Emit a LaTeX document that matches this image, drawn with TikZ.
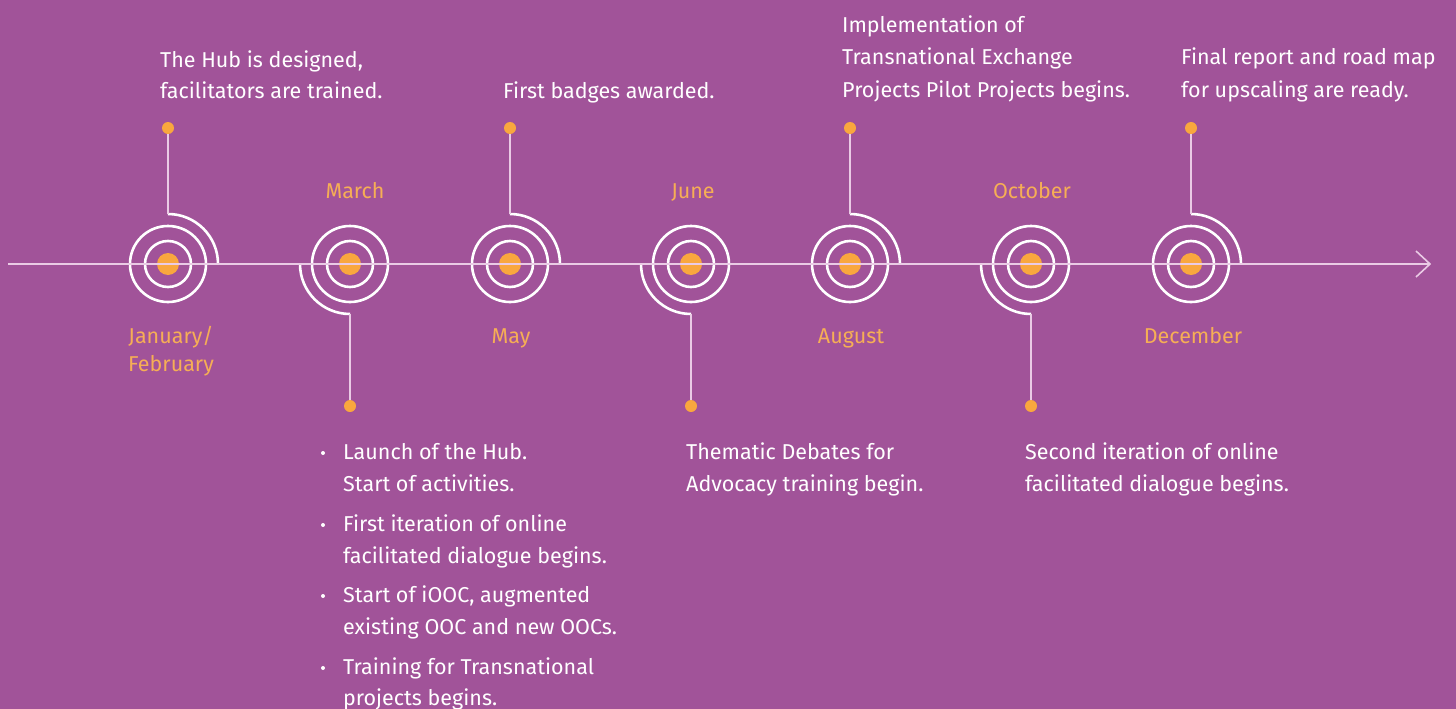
\documentclass[tikz,border=0pt]{standalone}
\usepackage{fontspec}
\setmainfont{Fira Sans}
\definecolor{bg}{HTML}{A15399}
\definecolor{dotor}{HTML}{F9A73E}
\definecolor{monor}{HTML}{F6AE55}
\definecolor{stem}{HTML}{EACBE5}
\begin{document}
\begin{tikzpicture}[x=1pt,y=-1pt,
  ring/.style={draw=white, line width=2.6pt},
  stemline/.style={draw=stem, line width=1.6pt},
  pin/.style={circle, fill=dotor, minimum size=12pt, inner sep=0pt},
  core/.style={circle, fill=dotor, minimum size=22pt, inner sep=0pt},
  bul/.style={circle, fill=white, minimum size=4pt, inner sep=0pt},
  txt/.style={text=white, font=\fontsize{21.5}{24}\selectfont, anchor=base west, inner sep=0pt},
  month/.style={text=monor, font=\fontsize{21.5}{24}\selectfont, anchor=base, inner sep=0pt},
]
\fill[bg] (0,0) rectangle (1456,709);
\useasboundingbox (0,0) rectangle (1456,709);

% axis
\coordinate (axs) at (8,264);
\coordinate (axe) at (1430,264);
\coordinate (axu) at (1416,251);
\coordinate (axd) at (1416,277);

% targets
\foreach \i/\x/\t in {1/168/up,2/350/down,3/510/up,4/691/down,5/850/up,6/1031/down,7/1191/up}{
  \node[core] (c\i) at (\x,264) {};
  \draw[ring] (c\i.center) circle (23pt);
  \draw[ring] (c\i.center) circle (38pt);
}
% arcs and stems (up)
\foreach \i/\x in {1/168,3/510,5/850,7/1191}{
  \coordinate (a\i) at (\x,214);
  \node[pin] (p\i) at (\x,128) {};
  \draw[ring] (a\i) arc[start angle=90, end angle=0, radius=50pt];
  \draw[stemline] (p\i) -- (a\i);
}
% arcs and stems (down)
\foreach \i/\x in {2/350,4/691,6/1031}{
  \coordinate (a\i) at (\x,314);
  \coordinate (l\i) at (\x-50,264);
  \node[pin] (p\i) at (\x,406) {};
  \draw[ring] (l\i) arc[start angle=180, end angle=270, radius=50pt];
  \draw[stemline] (a\i) -- (p\i);
}
\draw[stemline] (axs) -- (axe);
\draw[stemline, line join=miter] (axu) -- (axe) -- (axd);

% months
\node[month] (mmar) at (355,198) {March};
\node[month] (mjun) at (693,198) {June};
\node[month] (moct) at (1032,198) {October};
\node[month] (mjan) at (171,343) {January/};
\node[month] (mfeb) at (171,371) {February};
\node[month] (mmay) at (511,343) {May};
\node[month] (maug) at (851,343) {August};
\node[month] (mdec) at (1193,343) {December};

% texts above
\node[txt] (h1) at (160,67) {The Hub is designed,};
\node[txt] (h2) at (160,99) {facilitators are trained.};
\node[txt] (b1) at (503,99) {First badges awarded.};
\node[txt] (i1) at (842,33) {Implementation of};
\node[txt] (i2) at (842,65) {Transnational Exchange};
\node[txt] (i3) at (842,97) {Projects Pilot Projects begins.};
\node[txt] (f1) at (1181,65) {Final report and road map};
\node[txt] (f2) at (1181,97) {for upscaling are ready.};

% texts below
\node[bul] (u1) at (323,453) {};
\node[bul] (u2) at (323,525) {};
\node[bul] (u3) at (323,596) {};
\node[bul] (u4) at (323,668) {};
\node[txt] (l1) at (343,459) {Launch of the Hub.};
\node[txt] (l2) at (343,491) {Start of activities.};
\node[txt] (l3) at (343,531) {First iteration of online};
\node[txt] (l4) at (343,563) {facilitated dialogue begins.};
\node[txt] (l5) at (343,602) {Start of iOOC, augmented};
\node[txt] (l6) at (343,634) {existing OOC and new OOCs.};
\node[txt] (l7) at (343,674) {Training for Transnational};
\node[txt] (l8) at (343,705) {projects begins.};
\node[txt] (t1) at (686,459) {Thematic Debates for};
\node[txt] (t2) at (686,491) {Advocacy training begin.};
\node[txt] (s1) at (1025,459) {Second iteration of online};
\node[txt] (s2) at (1025,491) {facilitated dialogue begins.};
\end{tikzpicture}
\end{document}
